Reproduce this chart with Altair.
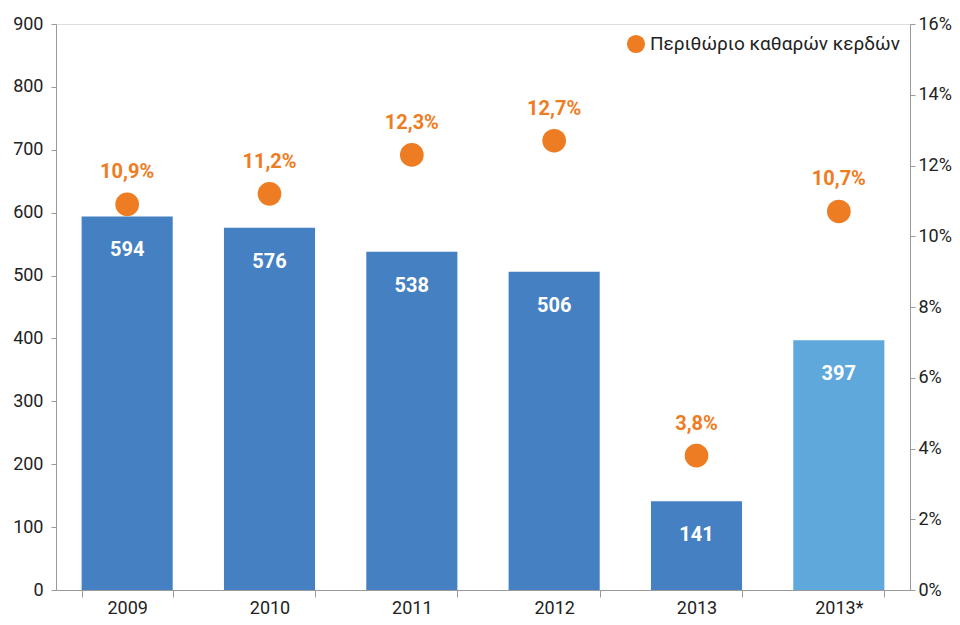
import altair as alt
import pandas as pd

years = ["2009", "2010", "2011", "2012", "2013", "2013*"]
profits = [594, 576, 538, 506, 141, 397]
margins = [10.9, 11.2, 12.3, 12.7, 3.8, 10.7]
margin_labels = ["10,9%", "11,2%", "12,3%", "12,7%", "3,8%", "10,7%"]
bar_colors = ["#4581C2", "#4581C2", "#4581C2", "#4581C2", "#4581C2", "#5FA8DC"]
series_name = "Περιθώριο καθαρών κερδών"

df = pd.DataFrame({
    "year": years,
    "profit": profits,
    "margin": margins,
    "mlabel": margin_labels,
    "bcolor": bar_colors,
    "series": [series_name] * len(years),
})

FONT = "Roboto"
x = alt.X("year:N", sort=years, title=None,
          scale=alt.Scale(paddingInner=0.36, paddingOuter=0.18),
          axis=alt.Axis(labelAngle=0, labelFontSize=18, labelColor="#222222",
                        labelFont=FONT, tickBand="extent", domainColor="#9a9a9a",
                        tickColor="#9a9a9a", tickSize=7, labelPadding=2))

yl = alt.Y("profit:Q", title=None,
           scale=alt.Scale(domain=[0, 900]),
           axis=alt.Axis(values=list(range(0, 901, 100)), grid=False,
                         labelFontSize=18, labelColor="#222222", labelFont=FONT,
                         domainColor="#9a9a9a", tickColor="#9a9a9a", tickSize=5,
                         labelPadding=8))

bars = alt.Chart(df).mark_bar().encode(
    x=x, y=yl, color=alt.Color("bcolor:N", scale=None))

bar_text = alt.Chart(df).mark_text(
    font=FONT, fontSize=20, fontWeight="bold", color="white", baseline="middle", dy=34
).encode(x=x, y=yl, text="profit:Q")

left = alt.layer(bars, bar_text)

yr = alt.Y("margin:Q", title=None,
           scale=alt.Scale(domain=[0, 16]),
           axis=alt.Axis(orient="right", values=list(range(0, 17, 2)), grid=False,
                         labelExpr="datum.value + '%'",
                         labelFontSize=18, labelColor="#222222", labelFont=FONT,
                         domainColor="#9a9a9a", tickColor="#9a9a9a", tickSize=5,
                         labelPadding=3))

points = alt.Chart(df).mark_point(filled=True, opacity=1, size=560).encode(
    x=x, y=yr,
    color=alt.Color("series:N", scale=alt.Scale(range=["#EE7C22"]),
                    legend=alt.Legend(orient="top-right", title=None,
                                      labelFontSize=19, labelFont=FONT,
                                      labelColor="#222222", symbolSize=330,
                                      symbolType="circle", offset=10, padding=0,
                                      labelLimit=400)))

pt_text = alt.Chart(df).mark_text(
    font=FONT, fontSize=20, fontWeight="bold", color="#EE7C22", baseline="middle", dy=-32
).encode(x=x, y=yr, text="mlabel:N")

right = alt.layer(points, pt_text)

chart = alt.layer(left, right).resolve_scale(y="independent", color="independent").properties(
    width=944, height=609,
    autosize=alt.AutoSizeParams(type="fit", contains="padding"),
    padding={"left": 4, "top": 7, "right": 0, "bottom": 0},
).configure_view(stroke=None).configure(background="white")

chart.save("out.html", embed_options={"renderer": "svg", "actions": False})
